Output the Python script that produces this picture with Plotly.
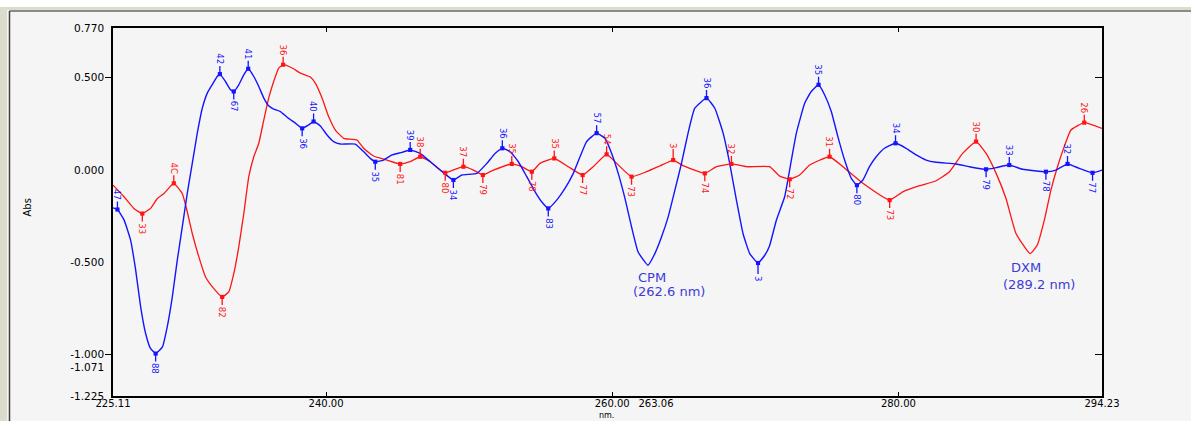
import numpy as np
import plotly.graph_objects as go

# ---------------- data ----------------
wl_blue = [225.11, 225.42, 225.88, 226.34, 226.69, 227.04, 227.39, 227.73, 228.09, 228.56,
           228.90, 229.25, 229.60, 229.95, 230.30, 230.65, 231.00, 231.35, 231.70, 232.04,
           232.39, 232.58, 232.97, 233.32, 233.55, 233.90, 234.25, 234.56, 234.95, 235.30,
           235.65, 235.99, 236.34, 236.81, 237.28, 237.86, 238.33, 238.79, 239.13, 239.60,
           240.07, 240.53, 241.00, 242.04, 242.62, 243.09, 243.44, 244.02, 244.61, 245.30,
           245.88, 246.58, 247.28, 247.98, 248.90, 249.49, 250.54, 251.24, 251.81, 252.32,
           252.86, 253.44, 254.03, 254.61, 255.07, 255.53, 256.12, 256.70, 257.28, 257.75,
           258.21, 258.91, 259.49, 259.96, 260.42, 260.89, 261.35, 261.81, 262.50, 262.98,
           263.45, 263.91, 264.38, 264.84, 265.30, 265.77, 266.59, 267.17, 267.75, 268.21,
           268.68, 269.14, 269.61, 270.19, 270.66, 271.00, 271.47, 272.05, 272.52, 272.87,
           273.45, 273.91, 274.42, 274.84, 275.31, 275.77, 276.24, 276.71, 277.10, 277.52,
           277.98, 278.45, 279.03, 279.80, 280.54, 281.24, 281.94, 282.64, 284.03, 284.96,
           286.13, 286.83, 287.75, 288.68, 290.31, 291.01, 291.82, 292.64, 293.57, 294.23]
abs_blue = [-0.205, -0.214, -0.270, -0.380, -0.540, -0.740, -0.886, -0.967, -0.995, -0.960,
            -0.850, -0.690, -0.490, -0.310, -0.127, 0.036, 0.200, 0.335, 0.417, 0.462,
            0.507, 0.520, 0.480, 0.435, 0.426, 0.462, 0.516, 0.549, 0.507, 0.453,
            0.390, 0.348, 0.330, 0.317, 0.286, 0.254, 0.226, 0.245, 0.263, 0.239,
            0.190, 0.154, 0.141, 0.141, 0.100, 0.063, 0.045, 0.054, 0.082, 0.096,
            0.109, 0.090, 0.045, 0.000, -0.054, -0.027, -0.018, 0.036, 0.090, 0.118,
            0.100, 0.045, -0.036, -0.118, -0.172, -0.208, -0.163, -0.100, -0.018, 0.072,
            0.154, 0.200, 0.172, 0.090, -0.018, -0.154, -0.308, -0.444, -0.516, -0.453,
            -0.362, -0.254, -0.109, 0.036, 0.200, 0.335, 0.390, 0.335, 0.200, 0.036,
            -0.163, -0.344, -0.453, -0.504, -0.462, -0.410, -0.272, -0.145, 0.054, 0.200,
            0.362, 0.426, 0.462, 0.408, 0.317, 0.181, 0.054, -0.045, -0.082, -0.054,
            0.018, 0.072, 0.118, 0.145, 0.118, 0.082, 0.054, 0.042, 0.033, 0.018,
            0.004, 0.013, 0.027, 0.004, -0.009, 0.000, 0.033, 0.009, -0.015, 0.000]

wl_red = [225.11, 225.88, 226.57, 227.16, 227.73, 228.21, 228.67, 229.36, 229.95, 230.30,
          230.65, 231.11, 231.58, 232.16, 232.74, 233.20, 233.55, 233.90, 234.25, 234.60,
          234.95, 235.30, 235.65, 235.99, 236.34, 236.69, 237.00, 237.63, 238.21, 238.90,
          239.25, 239.72, 240.18, 240.65, 241.23, 242.16, 242.62, 243.32, 244.26, 245.18,
          245.88, 246.58, 247.28, 247.98, 248.33, 249.02, 249.60, 250.30, 250.96, 251.70,
          252.98, 253.68, 254.38, 254.95, 255.95, 256.93, 257.93, 258.67, 259.61, 260.31,
          261.35, 262.40, 263.33, 264.26, 264.95, 266.47, 267.29, 268.33, 269.38, 271.00,
          271.70, 272.40, 273.10, 273.80, 275.19, 276.12, 277.52, 279.39, 280.31, 281.48,
          282.64, 283.57, 284.49, 285.43, 286.13, 286.83, 287.52, 288.22, 289.20, 289.70,
          290.20, 290.66, 291.12, 291.59, 292.06, 292.99, 294.23]
abs_red = [-0.082, -0.145, -0.208, -0.236, -0.208, -0.154, -0.127, -0.072, -0.127, -0.226,
           -0.344, -0.471, -0.580, -0.643, -0.688, -0.661, -0.562, -0.417, -0.236, -0.036,
           0.072, 0.145, 0.272, 0.390, 0.480, 0.553, 0.571, 0.553, 0.525, 0.504,
           0.471, 0.390, 0.290, 0.217, 0.172, 0.163, 0.118, 0.076, 0.054, 0.033,
           0.045, 0.072, 0.045, 0.000, -0.015, 0.004, 0.018, 0.000, -0.027, 0.000,
           0.033, 0.018, -0.009, 0.036, 0.063, 0.018, -0.027, 0.018, 0.085, 0.036,
           -0.036, -0.009, 0.022, 0.054, 0.024, -0.018, 0.018, 0.033, 0.018, 0.018,
           -0.033, -0.050, -0.027, 0.027, 0.072, 0.018, -0.072, -0.163, -0.118, -0.085,
           -0.058, -0.009, 0.090, 0.154, 0.090, -0.018, -0.154, -0.344, -0.453, -0.408,
           -0.272, -0.109, 0.018, 0.127, 0.217, 0.257, 0.226]

blue_peak_wl = [225.42, 228.09, 232.58, 233.55, 234.56, 238.33, 239.13, 243.44, 245.88, 248.90,
                252.32, 255.53, 258.91, 266.59, 270.19, 274.42, 277.10, 279.80, 286.13, 287.75,
                290.31, 291.82, 293.57]
blue_peak_lbl = ["47", "88", "42", "67", "41", "36", "40", "35", "39", "34",
                 "36", "83", "57", "36", "3", "35", "80", "34", "79", "33",
                 "78", "32", "77"]
blue_peak_dir = ["up", "down", "up", "down", "up", "down", "up", "down", "up", "down",
                 "up", "down", "up", "up", "down", "up", "down", "up", "down", "up",
                 "down", "up", "down"]

red_peak_wl = [227.16, 229.36, 232.74, 237.00, 245.18, 246.58, 248.33, 249.60, 250.96, 252.98,
               254.38, 255.95, 257.93, 259.61, 261.35, 264.26, 266.47, 268.33, 272.40, 275.19,
               279.39, 285.43, 292.99]
red_peak_lbl = ["33", "4C", "82", "36", "81", "38", "80", "37", "79", "35",
                "78", "35", "77", "54", "73", "3", "74", "32", "72", "31",
                "73", "30", "26"]
red_peak_dir = ["down", "up", "down", "up", "down", "up", "down", "up", "down", "up",
                "down", "up", "down", "up", "down", "up", "down", "up", "down", "up",
                "down", "up", "up"]

x_tick_vals = [225.11, 240.00, 260.00, 263.06, 280.00, 294.23]
x_tick_text = ["225.11", "240.00", "260.00", "263.06", "280.00", "294.23"]
x_major = [240.00, 260.00, 280.00]
y_tick_vals = [0.770, 0.500, 0.000, -0.500, -1.000, -1.071, -1.225]
y_tick_text = ["0.770", "0.500", "0.000", "-0.500", "-1.000", "-1.071", "-1.225"]
y_major = [0.500, -1.000]
x_range = [225.11, 294.23]
y_range = [-1.225, 0.770]

cpm_label = ["CPM", "(262.6 nm)"]
dxm_label = ["DXM", "(289.2 nm)"]

# ---------------- styling / layout ----------------
W, H = 1191, 421
ML, MR, MT, MB = 113, 89, 28, 25
PW, PH = W - ML - MR, H - MT - MB
BLUE = "#1414ff"
RED = "#ff1414"
FONT = "DejaVu Sans"


def px_x(p):
    return (p - ML) / PW


def px_y(p):
    return (H - MB - p) / PH


fig = go.Figure()
fig.add_trace(go.Scatter(x=wl_red, y=abs_red, mode="lines",
                         line=dict(color=RED, width=1.3, shape="spline", smoothing=0.4),
                         showlegend=False, hoverinfo="x+y"))
fig.add_trace(go.Scatter(x=wl_blue, y=abs_blue, mode="lines",
                         line=dict(color=BLUE, width=1.4, shape="spline", smoothing=0.4),
                         showlegend=False, hoverinfo="x+y"))
# carrier traces for the tick-only axes
for xa, ya in [("x2", "y"), ("x", "y2"), ("x", "y3")]:
    fig.add_trace(go.Scatter(x=[None], y=[None], xaxis=xa, yaxis=ya, mode="lines",
                             showlegend=False, hoverinfo="skip"))


def peak_annotations(wl, ab, pk_wl, pk_lbl, pk_dir, color):
    anns = []
    for w, l, d in zip(pk_wl, pk_lbl, pk_dir):
        yv = float(np.interp(w, wl, ab))
        anns.append(dict(x=w, y=yv, xref="x", yref="y", text=l, showarrow=True,
                         arrowhead=7, arrowsize=0.8, arrowwidth=1.3, arrowcolor=color,
                         ax=0, ay=-15 if d == "up" else 15, textangle=90, standoff=0,
                         font=dict(size=8.5, color=color, family=FONT)))
    return anns


annotations = []
annotations += peak_annotations(wl_blue, abs_blue, blue_peak_wl, blue_peak_lbl, blue_peak_dir, BLUE)
annotations += peak_annotations(wl_red, abs_red, red_peak_wl, red_peak_lbl, red_peak_dir, RED)

LBL = "#3c3cd8"
annotations += [
    dict(x=262.77, y=-0.58, xref="x", yref="y", text=cpm_label[0], showarrow=False,
         font=dict(size=13, color=LBL, family=FONT)),
    dict(x=263.96, y=-0.658, xref="x", yref="y", text=cpm_label[1], showarrow=False,
         font=dict(size=13, color=LBL, family=FONT)),
    dict(x=288.94, y=-0.527, xref="x", yref="y", text=dxm_label[0], showarrow=False,
         font=dict(size=13, color=LBL, family=FONT)),
    dict(x=289.85, y=-0.62, xref="x", yref="y", text=dxm_label[1], showarrow=False,
         font=dict(size=13, color=LBL, family=FONT)),
    dict(x=px_x(20), y=px_y(208), xref="paper", yref="paper", text="Abs", textangle=-90,
         showarrow=False, font=dict(size=10, color="black", family=FONT)),
    dict(x=px_x(606), y=px_y(421), xref="paper", yref="paper", text="nm.", yanchor="bottom",
         showarrow=False, borderpad=0, font=dict(size=8, color="black", family=FONT)),
]

shapes = [
    dict(type="rect", xref="paper", yref="paper", x0=px_x(0), x1=px_x(W), y0=px_y(0), y1=px_y(7),
         fillcolor="white", line=dict(width=0), layer="below"),
    dict(type="rect", xref="paper", yref="paper", x0=px_x(0), x1=px_x(W), y0=px_y(7), y1=px_y(10),
         fillcolor="#dcdccc", line=dict(width=0), layer="below"),
    dict(type="rect", xref="paper", yref="paper", x0=px_x(0), x1=px_x(7), y0=px_y(7), y1=px_y(H),
         fillcolor="#dcdccc", line=dict(width=0), layer="below"),
    dict(type="line", xref="paper", yref="paper", x0=px_x(9.5), x1=px_x(W), y0=px_y(11), y1=px_y(11),
         line=dict(color="#202020", width=1.2)),
    dict(type="line", xref="paper", yref="paper", x0=px_x(9.5), x1=px_x(9.5), y0=px_y(11), y1=px_y(H),
         line=dict(color="#404040", width=1.5)),
]

tickfont = dict(size=10.5, color="black", family=FONT)
xtickfont = dict(size=10, color="black", family=FONT)
fig.update_layout(
    width=W, height=H,
    margin=dict(l=ML, r=MR, t=MT, b=MB, autoexpand=False),
    paper_bgcolor="#f5f5f5", plot_bgcolor="#f5f5f5",
    showlegend=False,
    annotations=annotations,
    shapes=shapes,
    xaxis=dict(range=x_range, tickmode="array", tickvals=x_tick_vals, ticktext=x_tick_text,
               ticks="", showline=True, linecolor="black", linewidth=1.5, mirror=True,
               showgrid=False, zeroline=False, tickfont=xtickfont, fixedrange=True,
               ticklabelstandoff=-3),
    xaxis2=dict(range=x_range, overlaying="x", side="bottom", anchor="y",
                tickmode="array", tickvals=x_major, ticks="inside", ticklen=4, tickwidth=1.2,
                tickcolor="black", showticklabels=False, showline=True, linecolor="black",
                linewidth=1.5, mirror="ticks", showgrid=False, zeroline=False),
    yaxis=dict(range=y_range, tickmode="array", tickvals=y_tick_vals, ticktext=y_tick_text,
               ticks="outside", ticklen=5, tickcolor="rgba(0,0,0,0)", showline=True,
               linecolor="black", linewidth=1.5, mirror=True, showgrid=False, zeroline=False,
               tickfont=tickfont, fixedrange=True),
    yaxis2=dict(range=y_range, overlaying="y", side="left", anchor="x",
                tickmode="array", tickvals=y_major, ticks="outside", ticklen=7, tickwidth=1.2,
                tickcolor="black", showticklabels=False, showline=False, showgrid=False,
                zeroline=False),
    yaxis3=dict(range=y_range, overlaying="y", side="right", anchor="x",
                tickmode="array", tickvals=y_major, ticks="inside", ticklen=7, tickwidth=1.2,
                tickcolor="black", showticklabels=False, showline=False, showgrid=False,
                zeroline=False),
)

fig.write_html("out.html", config={"displayModeBar": False},
               post_script="document.body.style.margin='0';document.body.style.overflow='hidden';")
